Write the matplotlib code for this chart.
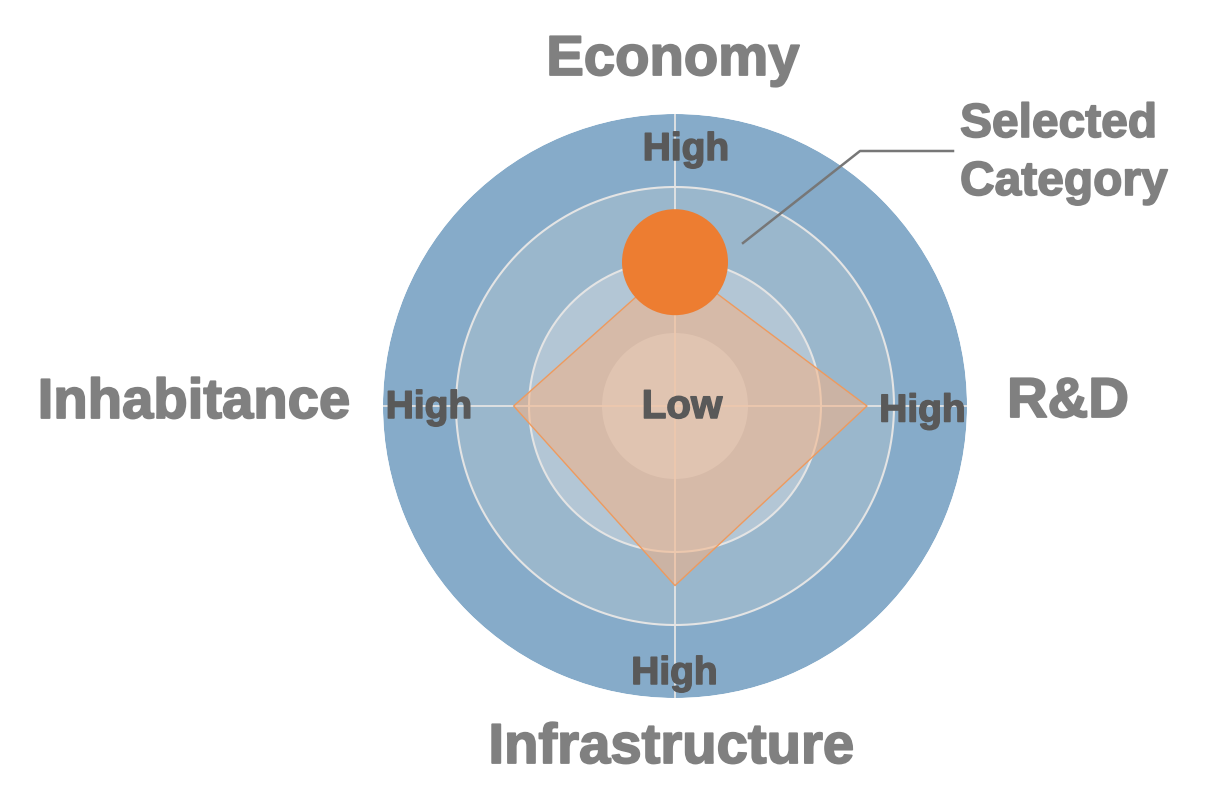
import numpy as np
import matplotlib
matplotlib.use("Agg")
import matplotlib.pyplot as plt
from matplotlib.lines import Line2D
import matplotlib.patheffects as pe

plt.rcParams['font.family'] = ['Liberation Sans', 'DejaVu Sans']

# ---- data ----
categories = ["Economy", "R&D", "Infrastructure", "Inhabitance"]
values = [1.97, 2.63, 2.46, 2.21]          # radial score, scale 0..4
selected = "Economy"
ring_levels = [4, 3, 2, 1]                  # ring outer radii
ring_colors = ["#86ABC9", "#9AB7CC", "#B3C6D5", "#C9DCEA"]
grid_levels = [2, 3]
axis_max = 4
tick_label_high = "High"
tick_label_low = "Low"

W, H = 1206, 811
fig = plt.figure(figsize=(W / 100, H / 100), dpi=100)

cx, cy, R = 675, 406, 292
ax = fig.add_axes([(cx - R) / W, (H - cy - R) / H, 2 * R / W, 2 * R / H],
                  projection='polar')
ax.set_theta_zero_location('N')
ax.set_theta_direction(-1)
ax.set_ylim(0, axis_max)
ax.set_axis_off()

theta = np.linspace(0, 2 * np.pi, len(categories), endpoint=False)

# rings
for lvl, col in zip(ring_levels, ring_colors):
    ax.bar(0, lvl, width=2 * np.pi, bottom=0, color=col, edgecolor='none',
           align='center', zorder=1)

# grid circles
tt = np.linspace(0, 2 * np.pi, 400)
for g in grid_levels:
    ax.plot(tt, np.full_like(tt, g), color='#E4E4E4', lw=1.5, zorder=2)

# spokes
for t in theta:
    ax.plot([t, t], [0, axis_max], color='#E4E4E4', lw=1.3, zorder=2)

# diamond
tc = np.append(theta, theta[0])
vc = np.append(values, values[0])
ax.fill(tc, vc, color='#F4B183', alpha=0.55, zorder=3, lw=0)
ax.plot(tc, vc, color='#EE9A5E', lw=1.0, zorder=4)

# selected category marker
si = categories.index(selected)
ax.scatter([theta[si]], [values[si]], s=(106 * 0.72) ** 2, color='#ED7D31',
           edgecolor='none', zorder=5)

def fx(x):
    return x / W

def fy(y):
    return 1 - y / H

def heavy(c, w):
    return [pe.withStroke(linewidth=w, foreground=c)]

big = dict(fontsize=40.5, fontweight='bold', color='#808080', ha='center', va='baseline',
           path_effects=heavy('#808080', 1.3))
fig.text(fx(673), fy(75), categories[0], **big)
fig.text(fx(1068), fy(417), categories[1], **big)
fig.text(fx(671.5), fy(763), categories[2], **big)
fig.text(fx(194), fy(418), categories[3], **big)

hi = dict(fontsize=28, fontweight='bold', color='#595959', ha='center', va='baseline',
          zorder=10, path_effects=heavy('#595959', 1.1))
fig.text(fx(686), fy(160), tick_label_high, **hi)
fig.text(fx(922.5), fy(421.5), tick_label_high, **hi)
fig.text(fx(674.5), fy(684), tick_label_high, **hi)
fig.text(fx(429), fy(418), tick_label_high, **hi)
fig.text(fx(682), fy(418), tick_label_low, fontsize=29, fontweight='bold',
         color='#595959', ha='center', va='baseline', zorder=10,
         path_effects=heavy('#595959', 1.1))

# annotation
sel = dict(fontsize=34.5, fontweight='bold', color='#808080', ha='left', va='baseline',
           path_effects=heavy('#808080', 1.2))
fig.text(fx(960), fy(137), "Selected", **sel)
fig.text(fx(960), fy(195), "Category", **sel)
fig.add_artist(Line2D([fx(743), fx(860), fx(953)], [fy(243), fy(151), fy(151)],
                      color='#777777', lw=1.8, transform=fig.transFigure))

fig.savefig("out.png", dpi=100)
